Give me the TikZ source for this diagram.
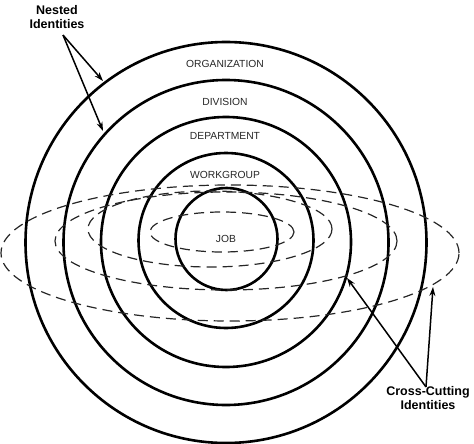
\documentclass[tikz,border=0pt]{standalone}
\usepackage{fontspec}
\setmainfont{Liberation Sans}
\usepackage{tikz}
\usetikzlibrary{arrows.meta}

\tikzset{
  ring/.style={draw=black, line width=2.6pt},
  cross/.style={draw=black!85, line width=1.2pt, dash pattern=on 10pt off 6pt},
  level/.style={font=\fontsize{10.3}{12}\selectfont, text=black!85, inner sep=1pt},
  callout/.style={font=\fontsize{12.5}{14.5}\selectfont\bfseries, align=center, inner sep=1pt},
  pointer/.style={-{Stealth[length=9pt, width=6pt]}, line width=1.5pt}
}

\begin{document}
\begin{tikzpicture}[x=1pt, y=-1pt]
  \useasboundingbox (0,0) rectangle (474,444);
  % nested identities
  \draw[ring] (226,242.5) circle[radius=200.5pt];
  \draw[ring] (226,242.5) circle[radius=162.5pt];
  \draw[ring] (226,242) circle[radius=125pt];
  \draw[ring] (226,240.5) circle[radius=87.5pt];
  \draw[ring] (226.5,239) circle[radius=51pt];
  % cross-cutting identities
  \draw[cross] (230,253) ellipse[x radius=229pt, y radius=68pt];
  \draw[cross] (226,241) ellipse[x radius=171pt, y radius=49pt];
  \draw[cross] (210,229) ellipse[x radius=122pt, y radius=38pt];
  \draw[cross] (222,232) ellipse[x radius=72pt, y radius=20pt];
  % levels
  \node[level] (org) at (225,64) {ORGANIZATION};
  \node[level] (div) at (225,102) {DIVISION};
  \node[level] (dept) at (225,136) {DEPARTMENT};
  \node[level] (wg) at (225,175) {WORKGROUP};
  \node[level] (job) at (226,239) {JOB};
  % callouts
  \node[callout] (nested) at (57,17) {Nested\\Identities};
  \coordinate (nestA) at (103,81);
  \coordinate (nestB) at (103,131);
  \draw[pointer] ([xshift=6pt,yshift=-5pt]nested.south) -- (nestA);
  \draw[pointer] ([xshift=6pt,yshift=-5pt]nested.south) -- (nestB);
  \node[callout] (crossing) at (428,398) {Cross-Cutting\\Identities};
  \coordinate (crossA) at (347,278);
  \coordinate (crossB) at (433,287);
  \draw[pointer] ([xshift=-2pt,yshift=-2pt]crossing.north) -- (crossA);
  \draw[pointer] ([xshift=-2pt,yshift=-2pt]crossing.north) -- (crossB);
\end{tikzpicture}
\end{document}
